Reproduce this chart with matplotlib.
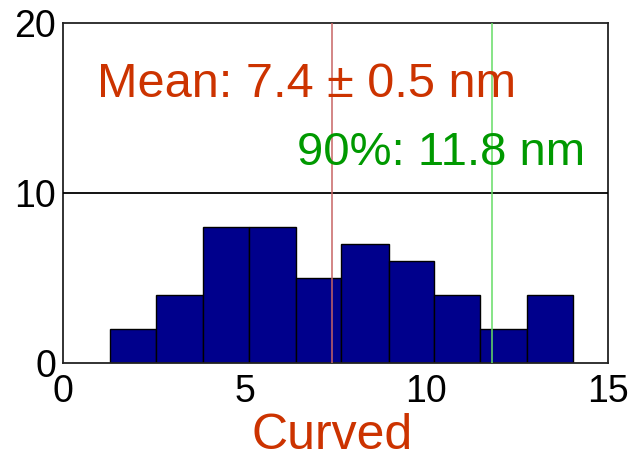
import numpy as np
import matplotlib.pyplot as plt

# histogram data
bin_edges = [1.29, 2.56, 3.85, 5.13, 6.40, 7.66, 8.96, 10.20, 11.48, 12.77, 14.04]
counts = [2, 4, 8, 8, 5, 7, 6, 4, 2, 4]
mean_size = 7.4
mean_err = 0.5
p90_size = 11.8
x_ticks = [0, 5, 10, 15]
y_ticks = [0, 10, 20]

red_txt = '#cc3300'
green_txt = '#009900'
tick_font = ['Liberation Sans Narrow', 'Liberation Sans', 'DejaVu Sans']
text_font = ['Liberation Sans', 'DejaVu Sans']

fig = plt.figure(figsize=(6.31, 4.59), dpi=100)
ax = fig.add_axes([63/631, 1 - 363/459, (608 - 63)/631, (363 - 23)/459])

edges = np.array(bin_edges)
ax.bar(edges[:-1], counts, width=np.diff(edges), align='edge',
       color='#00008c', edgecolor='black', linewidth=1.0, zorder=2)

ax.axhline(10, color='black', linewidth=1.3, zorder=3)
ax.axvline(mean_size, color='#c86464', linewidth=1.1, zorder=4)
ax.axvline(p90_size, color='#66dd66', linewidth=1.1, zorder=4)

ax.set_xlim(0, 15)
ax.set_ylim(0, 20)
ax.set_xticks(x_ticks)
ax.set_yticks(y_ticks)
ax.tick_params(length=0, labelsize=27)
ax.tick_params(axis='x', pad=8)
ax.tick_params(axis='y', pad=5)
for lab in ax.get_xticklabels() + ax.get_yticklabels():
    lab.set_family(tick_font)
for s in ax.spines.values():
    s.set_linewidth(1.3)
    s.set_color('#222222')

ax.text(0.94, 15.65, 'Mean: %.1f \u00b1 %.1f nm' % (mean_size, mean_err),
        color=red_txt, fontsize=35, family=text_font, va='baseline', zorder=5)
ax.text(6.44, 11.65, '90%%: %.1f nm' % p90_size,
        color=green_txt, fontsize=34, family=text_font, va='baseline', zorder=5)

fig.text(332/631, (459 - 449)/459, 'Curved', color=red_txt, fontsize=36,
         family=text_font, ha='center', va='baseline')

fig.savefig('out.png', dpi=100)
